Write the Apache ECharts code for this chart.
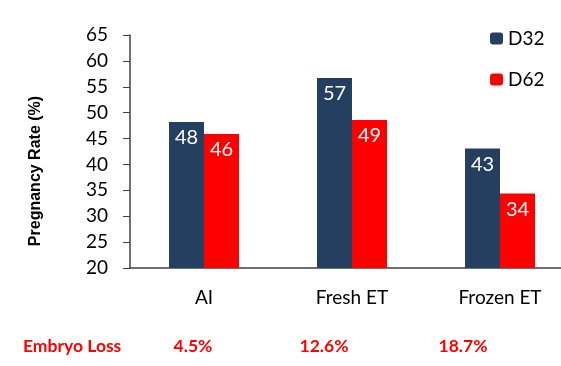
<!DOCTYPE html>
<html><head><meta charset="utf-8">
<script src="https://cdn.jsdelivr.net/npm/echarts@6/dist/echarts.min.js"></script>
<style>html,body{margin:0;padding:0;background:#fff}#c{width:561px;height:366px}</style>
</head><body><div id="c"></div>
<script>
const categories = ['AI', 'Fresh ET', 'Frozen ET'];
const d32 = [48.2, 56.7, 43.1];
const d62 = [45.9, 48.6, 34.4];
const d32Labels = ['48', '57', '43'];
const d62Labels = ['46', '49', '34'];
const embryoLoss = ['4.5%', '12.6%', '18.7%'];
const yTicks = [20, 65, 5];
const yTitle = 'Pregnancy Rate (%)';

const chart = echarts.init(document.getElementById('c'));
const font = 'Lato, "Open Sans", sans-serif';
function extraGraphics() {
  const g = [{type:'text', left: 23, top: 337, style:{text:'Embryo Loss', fill:'#ff0000', font:'bold 17.5px ' + font}}];
  const centers = [193, 324, 463];
  embryoLoss.forEach((t, i) => {
    g.push({type:'text', x: centers[i], y: 337, style:{text:t, fill:'#ff0000', font:'bold 17.5px ' + font, textAlign:'center'}});
  });
  g.push({type:'text', x: 36, y: 171, rotation: Math.PI / 2,
    style:{text: yTitle, fill:'#000', font:'bold 16px "Liberation Sans", Arial, sans-serif', textAlign:'center', textVerticalAlign:'middle'}});
  return g;
}
chart.setOption({
  animation: false,
  grid: {left: 130, width: 444, top: 35, height: 233, outerBoundsMode: 'none', containLabel: false},
  legend: {
    orient: 'vertical', left: 485, top: 24, itemWidth: 13, itemHeight: 12, itemGap: 22,
    textStyle: {fontSize: 19, fontFamily: font, color: '#000'},
    data: ['D32', 'D62']
  },
  xAxis: {
    type: 'category', data: categories,
    axisLine: {lineStyle: {color: '#404040', width: 1.5}},
    axisTick: {show: false},
    axisLabel: {fontSize: 19, fontFamily: font, color: '#000', margin: 20}
  },
  yAxis: {
    type: 'value', min: yTicks[0], max: yTicks[1], interval: yTicks[2],
    axisLine: {show: true, lineStyle: {color: '#404040', width: 1.5}},
    axisTick: {show: true, inside: false, length: 7, lineStyle: {color: '#404040'}},
    splitLine: {show: false},
    axisLabel: {fontSize: 19, fontFamily: font, color: '#000', margin: 22}
  },
  series: [
    {name: 'D32', type: 'bar', data: d32, barWidth: 35, barGap: '0%', itemStyle: {color: '#243F60'},
     label: {show: true, position: 'insideTop', distance: 6, color: '#fff', fontSize: 20, fontFamily: font,
       formatter: p => d32Labels[p.dataIndex]}},
    {name: 'D62', type: 'bar', data: d62, barWidth: 35, barGap: '0%', itemStyle: {color: '#ff0000'},
     label: {show: true, position: 'insideTop', distance: 6, color: '#fff', fontSize: 20, fontFamily: font,
       formatter: p => d62Labels[p.dataIndex]}}
  ],
  graphic: extraGraphics()
});
</script></body></html>
